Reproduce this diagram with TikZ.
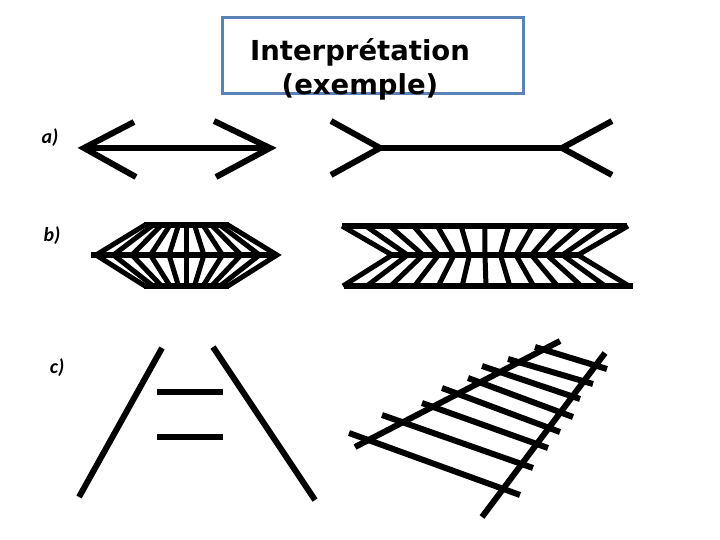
\documentclass[tikz,border=0pt]{standalone}
\usepackage{fontspec}
\newfontfamily\titlefont{DejaVu Sans}
\newfontfamily\labelfont{Carlito}
\definecolor{boxblue}{HTML}{5B82B6}
\begin{document}
\begin{tikzpicture}[x=1pt,y=-1pt,
  thick line/.style={line width=6pt},
  fan line/.style={line width=5pt},
  lbl/.style={font=\labelfont\bfseries\itshape\fontsize{20}{22}\selectfont, inner sep=0pt},
  titletext/.style={font=\titlefont\bfseries\fontsize{27.5}{34}\selectfont, align=center, inner sep=0pt}]
\useasboundingbox (0,0) rectangle (720,540);
\fill[white] (0,0) rectangle (720,540);

% title box
\draw[boxblue, line width=3pt] (222,18) rectangle (523,94);
\node[titletext] (title) at (360,69) {Interprétation\\(exemple)};

% labels
\node[lbl] (la) at (50,138) {a)};
\node[lbl] (lb) at (52,236) {b)};
\node[lbl] (lc) at (57,368) {c)};

% row a, left: arrow with heads
\draw[thick line] (84,148) -- (270,148);
\draw[thick line, line join=miter] (134,122) -- (84,148) -- (136,177);
\draw[thick line, line join=miter] (214,121) -- (270,148) -- (216,177);

% row a, right: fins out
\draw[thick line] (380,148) -- (562,148);
\draw[thick line, line join=miter] (331,121) -- (380,148) -- (331,175);
\draw[thick line, line join=miter] (612,121) -- (562,148) -- (612,175);

% row b, left
\draw[thick line] (144,225) -- (229,225);
\draw[thick line] (144,286) -- (229,286);
\draw[thick line] (91,255) -- (277,255);
\foreach \d in {-41.5,-33.5,-25,-16.5,-8,0,8,16.5,25,33.5,41.5}{
  \draw[fan line] (186.5+\d,225) -- (186.5+2.18*\d,255) -- (186.5+\d,286);
}

% row b, right
\draw[thick line] (342,226) -- (627,226);
\draw[thick line] (344,286) -- (633,286);
\draw[thick line] (392,255) -- (578,255);
\foreach \i in {0,...,12}{
  \pgfmathsetmacro{\d}{-143+23.83*\i}
  \draw[fan line] (485+\d,226) -- (485+0.65*\d,255) -- (486+\d,286);
}

% row c, left: converging rails with two bars
\draw[thick line] (79,497) -- (162,348);
\draw[thick line] (213,347) -- (315,500);
\draw[thick line] (157,392) -- (223,392);
\draw[thick line] (157,437) -- (223,437);

% row c, right: railway track in perspective
\draw[thick line] (355,447) -- (560,341);
\draw[thick line] (482,517) -- (605,353);
\draw[thick line] (535,347) -- (607,369);
\draw[thick line] (508,359) -- (593,384);
\draw[thick line] (482,366) -- (580,399);
\draw[thick line] (468,378) -- (573,417);
\draw[thick line] (442,388) -- (560,432);
\draw[thick line] (422,403) -- (548,448);
\draw[thick line] (382,415) -- (533,468);
\draw[thick line] (349,433) -- (520,495);
\end{tikzpicture}
\end{document}
